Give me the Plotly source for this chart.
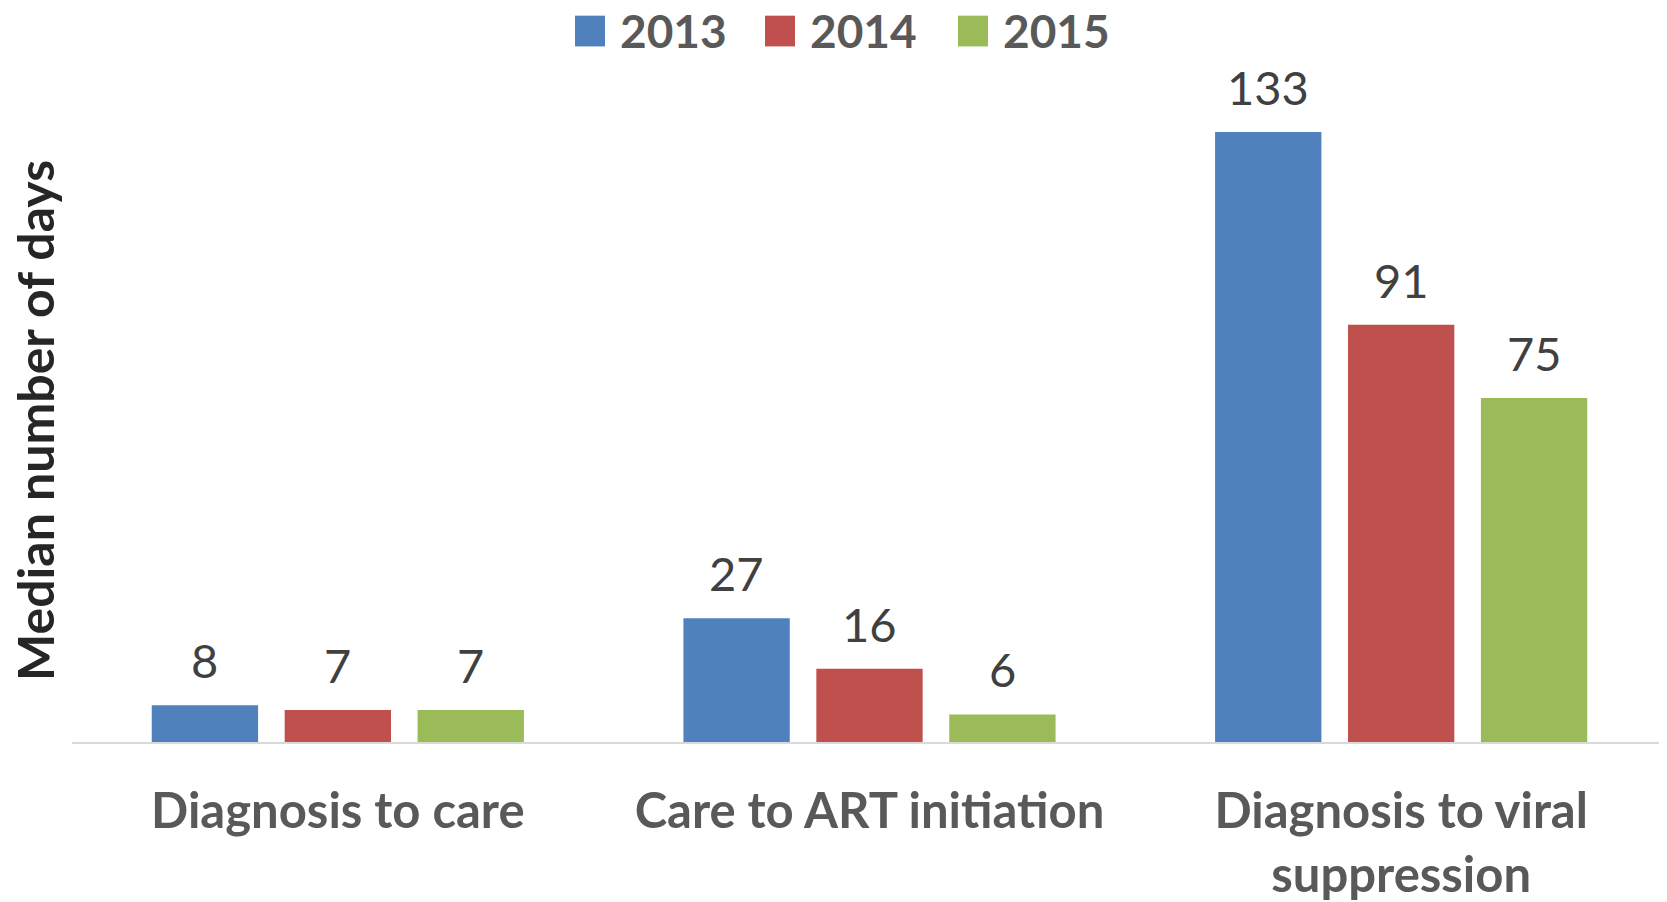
import plotly.graph_objects as go

# data
categories = ["Diagnosis to care", "Care to ART initiation", "Diagnosis to viral<br>suppression"]
years = ["2013", "2014", "2015"]
days_2013 = [8, 27, 133]
days_2014 = [7, 16, 91]
days_2015 = [7, 6, 75]
series = [days_2013, days_2014, days_2015]
colors = ["#4F81BD", "#C0504D", "#9BBB59"]

FONT = "Lato"
# the page adds an 8px body margin (top/left), margins below compensate for it
W, H = 1667, 902
L, R, T, B = 64, 8, 92, 163
plot_w = W - L - R
plot_h = H - T - B
BARGAP = 0.25
GROUPGAP = 0.2


def px_x(x):
    """Figure pixel x -> paper x."""
    return (x - L) / plot_w


def px_y(y):
    """Figure pixel y (from top) -> paper y."""
    return (H - B - y) / plot_h


fig = go.Figure()
for year, values, color in zip(years, series, colors):
    fig.add_trace(
        go.Bar(
            x=categories,
            y=values,
            name=year,
            marker=dict(color=color, line=dict(width=0)),
            showlegend=False,
        )
    )

# value labels above bars
slot = plot_w / len(categories)
bar_step = slot * (1 - BARGAP) / len(series)
for i, values in enumerate(series):
    for cat, val in zip(categories, values):
        fig.add_annotation(
            x=cat,
            y=val,
            text=str(val),
            showarrow=False,
            xshift=(i - 1) * bar_step,
            yanchor="bottom",
            yshift=15,
            font=dict(family=FONT, size=47, color="#404040"),
        )

# legend drawn as squares + labels
legend_x = [567, 757, 950]
for x0, year, color in zip(legend_x, years, colors):
    fig.add_shape(
        type="rect",
        xref="paper",
        yref="paper",
        x0=px_x(x0),
        x1=px_x(x0 + 30),
        y0=px_y(38),
        y1=px_y(7),
        fillcolor=color,
        line=dict(width=0),
    )
    fig.add_annotation(
        xref="paper",
        yref="paper",
        x=px_x(x0 + 43),
        y=px_y(22),
        xanchor="left",
        yanchor="middle",
        text="<b>%s</b>" % year,
        showarrow=False,
        font=dict(family=FONT, size=46, color="#595959"),
    )

# y axis title
fig.add_annotation(
    xref="paper",
    yref="paper",
    x=px_x(27),
    y=0.5,
    text="<b>Median number of days</b>",
    textangle=-90,
    showarrow=False,
    xanchor="center",
    yanchor="middle",
    font=dict(family=FONT, size=50, color="#262626"),
)

fig.update_layout(
    width=W,
    height=H,
    margin=dict(l=L, r=R, t=T, b=B),
    plot_bgcolor="white",
    paper_bgcolor="white",
    barmode="group",
    bargap=BARGAP,
    bargroupgap=GROUPGAP,
    showlegend=False,
)
fig.update_xaxes(
    showline=True,
    linecolor="#D9D9D9",
    linewidth=2,
    ticks="",
    ticklabelstandoff=25,
    tickfont=dict(family=FONT, size=49, color="#595959"),
    tickprefix="<b>",
    ticksuffix="</b>",
)
fig.update_yaxes(
    range=[0, 140],
    showticklabels=False,
    showgrid=False,
    zeroline=False,
    showline=False,
)

fig.write_html("out.html")
